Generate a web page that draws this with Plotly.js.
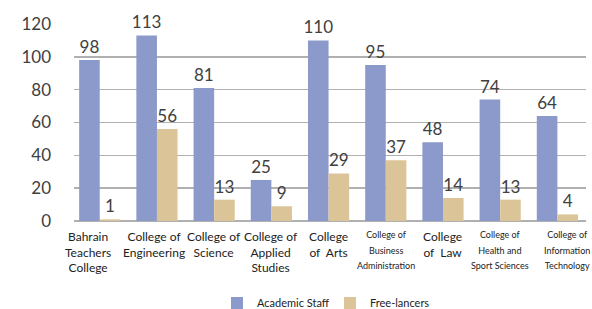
<!DOCTYPE html>
<html>
<head>
<meta charset="utf-8">
<script src="https://cdn.plot.ly/plotly-3.0.1.min.js"></script>
<style>html,body{margin:0;padding:0;background:#fff;}#chart{width:592px;height:309px;}</style>
</head>
<body>
<div id="chart"></div>
<script>
const categories = ["Bahrain Teachers College","College of Engineering","College of Science","College of Applied Studies","College of Arts","College of Business Administration","College of Law","College of Health and Sport Sciences","College of Information Technology"];
const categoryLabels = ["Bahrain<br>Teachers<br>College","College of<br>Engineering","College of<br>Science","College of<br>Applied<br>Studies","College<br>of  Arts","College of<br>Business<br>Administration","College<br>of  Law","College of<br>Health and<br>Sport Sciences","College of<br>Information<br>Technology"];
const smallLabel = [false,false,false,false,false,true,false,true,true];
const academicStaff = [98,113,81,25,110,95,48,74,64];
const freeLancers = [1,56,13,9,29,37,14,13,4];
const yTicks = [0,20,40,60,80,100,120];

const numFont = {family: "Lato, 'DejaVu Sans', sans-serif", size: 17, color: "#404040"};
const labelNudge = {0: -12, 1: -3, 8: 10};

const traces = [
  {type: "bar", name: "Academic Staff", x: categories, y: academicStaff,
   marker: {color: "#8c9acb"}, text: academicStaff.map(String), textposition: "outside",
   textfont: numFont, cliponaxis: false, constraintext: "none"},
  {type: "bar", name: "Free-lancers", x: categories, y: freeLancers,
   marker: {color: "#dcc499"}, text: freeLancers.map(String), textposition: "outside",
   textfont: numFont, cliponaxis: false, constraintext: "none"}
];

const annotations = categories.map((c, i) => ({
  x: c, xref: "x", y: 0, yref: "paper", yanchor: "top", xanchor: "center",
  yshift: -6, xshift: labelNudge[i] || 0, showarrow: false, align: "center",
  text: smallLabel[i] ? '<span style="font-size:9px">' + categoryLabels[i] + '</span>' : categoryLabels[i],
  font: {family: "Lato, 'Open Sans', sans-serif", size: 12, color: "#222222"}
}));

const layout = {
  width: 592, height: 309,
  margin: {l: 74, r: 6, t: 24, b: 88, autoexpand: false},
  paper_bgcolor: "#ffffff", plot_bgcolor: "#ffffff",
  barmode: "group", bargap: 0.28, bargroupgap: 0,
  showlegend: true,
  legend: {orientation: "h", x: 0.5, xanchor: "center", y: -0.416, yanchor: "middle",
           font: {family: "Lato, 'Open Sans', sans-serif", size: 11, color: "#222222"},
           itemwidth: 30, entrywidth: 68, entrywidthmode: "pixels"},
  xaxis: {type: "category", range: [-0.45, 8.5], showticklabels: false, showgrid: false,
          zeroline: false, showline: false, ticks: ""},
  yaxis: {range: [0, 120], tickvals: yTicks, ticktext: yTicks.map(String),
          tickfont: numFont, showgrid: true, gridcolor: "#b0b0b0", gridwidth: 1.5,
          zeroline: true, zerolinecolor: "#b0b0b0", zerolinewidth: 1.5,
          showline: false, ticks: "", ticklabelstandoff: 22},
  annotations: annotations
};

Plotly.newPlot("chart", traces, layout, {displayModeBar: false, staticPlot: true});
</script>
</body>
</html>
